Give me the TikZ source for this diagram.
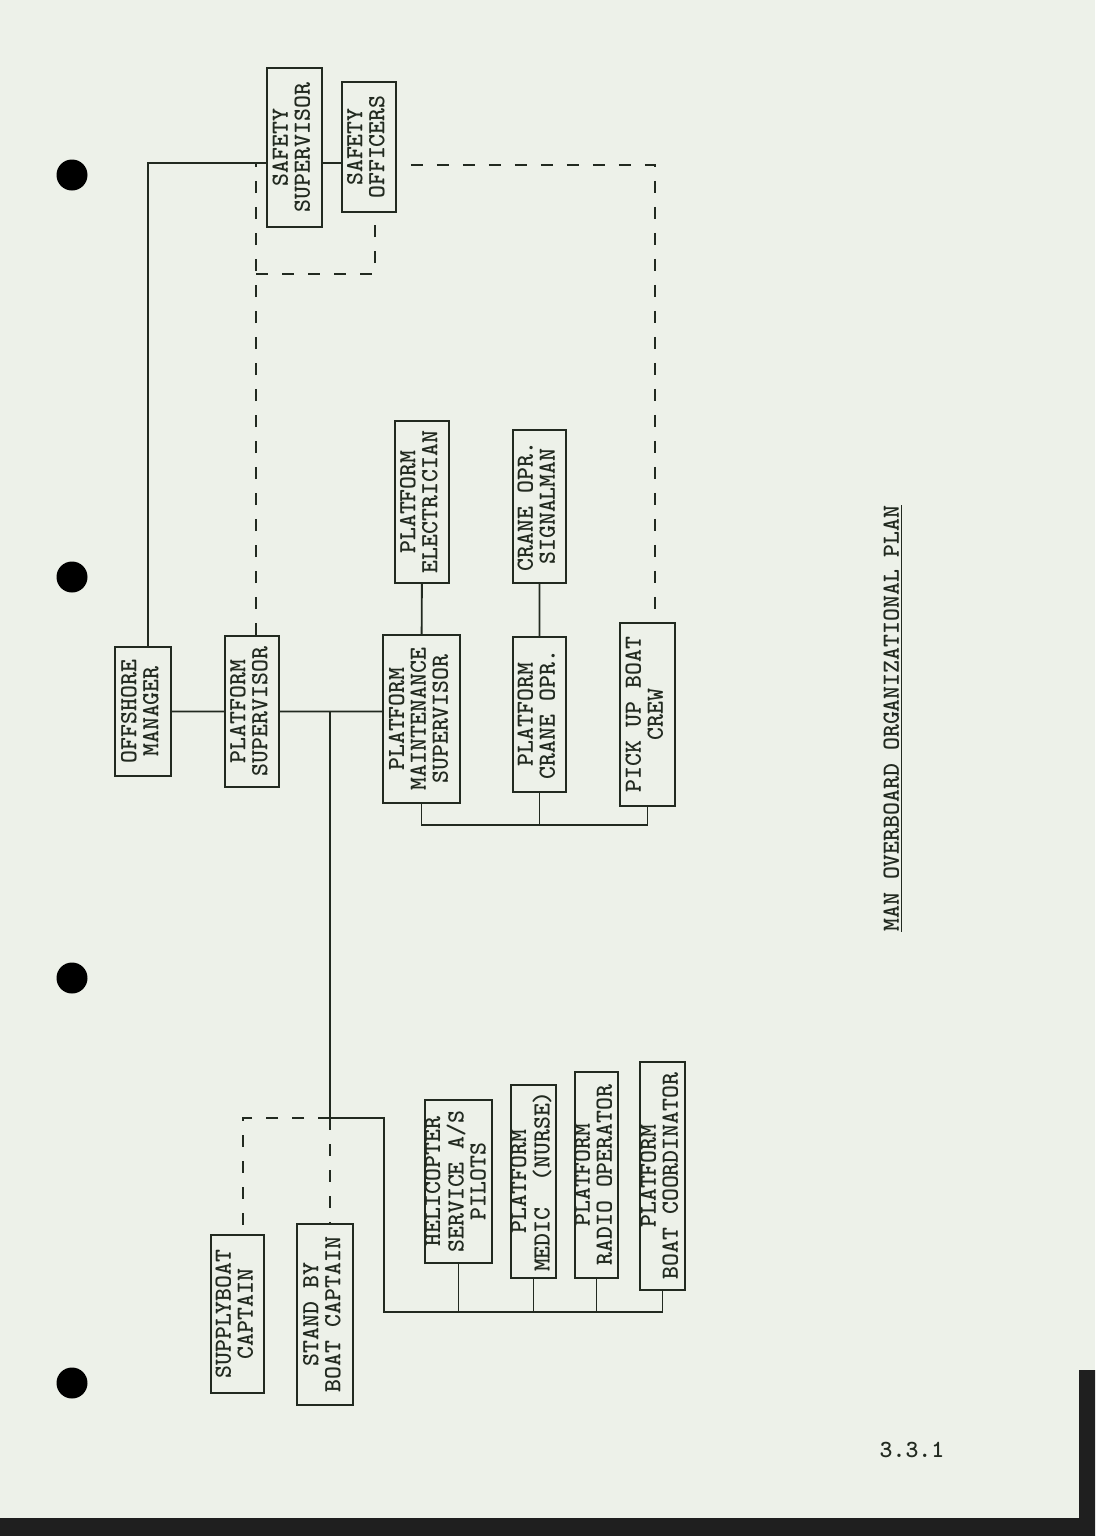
\documentclass[tikz,border=0pt]{standalone}
\usetikzlibrary{positioning}
\definecolor{paper}{HTML}{EDF1E9}
\definecolor{ink}{HTML}{222A20}
\newcommand\vtext[1]{\rotatebox{90}{\begin{tabular}{@{}c@{}}#1\end{tabular}}}
\begin{document}
\begin{tikzpicture}[x=0.2mm,y=-0.2mm,
	tt/.style={font=\ttfamily\bfseries\fontsize{14}{12.4}\selectfont,text=ink},
	box/.style={tt,draw=ink,line width=1.1pt,inner sep=0pt},
	wh/.style 2 args={minimum width=#1*0.2mm,minimum height=#2*0.2mm},
	sol/.style={draw=ink,line width=1.1pt},
	dsh/.style={draw=ink,line width=1.1pt,dash pattern=on 2.4mm off 2.8mm}]
				\fill[paper] (0,0) rectangle (1095,1536)
				;
				\useasboundingbox (0,0) rectangle (1095,1536)
				;
				\fill[black!88] (0,1518) rectangle (1095,1536) (1079,1370) rectangle (1095,1536)
				;
				\foreach \y in {175,577,978,1383} \fill[black] (72,\y) circle (3.1mm)
				;
				\node[box,wh={55}{159}] (ss) at (294.5,147.5) {\vtext{SAFETY\\SUPERVISOR}};
				\node[box,wh={54}{130}] (so) at (369,147) {\vtext{SAFETY\\OFFICERS}};
				\node[box,wh={56}{129}] (om) at (143,711.5) {\vtext{OFFSHORE\\MANAGER}};
				\node[box,wh={54}{151}] (ps) at (252,711.5) {\vtext{PLATFORM\\SUPERVISOR}};
				\node[box,wh={77}{168}] (pms) at (421.5,719) {\vtext{PLATFORM\\MAINTENANCE\\SUPERVISOR}};
				\node[box,wh={54}{162}] (pe) at (422,502) {\vtext{PLATFORM\\ELECTRICIAN}};
				\node[box,wh={53}{153}] (cs) at (539.5,506.5) {\vtext{CRANE OPR.\\SIGNALMAN}};
				\node[box,wh={53}{155}] (pco) at (539.5,714.5) {\vtext{PLATFORM\\CRANE OPR.}};
				\node[box,wh={55}{183}] (pub) at (647.5,714.5) {\vtext{PICK UP BOAT\\CREW}};
				\node[box,wh={67}{163}] (heli) at (458.5,1181.5) {\vtext{HELICOPTER\\SERVICE A/S\\PILOTS}};
				\node[box,wh={43}{193}] (medic) at (533.5,1181.5) {\vtext{PLATFORM\\MEDIC~~(NURSE)}};
				\node[box,wh={43}{206}] (radio) at (596.5,1175) {\vtext{PLATFORM\\RADIO OPERATOR}};
				\node[box,wh={45}{228}] (coord) at (662.5,1176) {\vtext{PLATFORM\\BOAT COORDINATOR}};
				\node[box,wh={53}{158}] (sb) at (237.5,1314) {\vtext{SUPPLYBOAT\\CAPTAIN}};
				\node[box,wh={56}{181}] (stb) at (325,1314.5) {\vtext{STAND BY\\BOAT CAPTAIN}};
				\path
				(148,163) coordinate (j1)
				(330,711.5) coordinate (j2)
				(330,1118) coordinate (j3)
				(384,1118) coordinate (j4)
				(384,1312) coordinate (b2)
				(427,825) coordinate (b1)
				(655,165) coordinate (d1)
				(256,274) coordinate (d2)
				(375,274) coordinate (d3)
				(243,1118) coordinate (d4)
				;
				\draw[sol] (om.north -| j1) -- (j1) -- (j1 -| ss.west) (ss.east |- j1) -- (so.west |- j1)
				;
				\draw[sol] (om) -- (ps) (ps.east) -- (ps.east -| pms.west) (pe) -- (pms) (cs) -- (pco)
				;
				\draw[sol] (pms.south) -- (pms.south |- b1) -| (pub.south) (pco.south) -- (pco.south |- b1)
				;
				\draw[sol] (j2) -- (j3) -- (j4) -- (b2) -| (coord.south)
				;
				\foreach \n in {heli,medic,radio} \draw[sol] (\n.south) -- (\n.south |- b2)
				;
				\draw[dsh,dash phase=2.4mm] (so.east |- d1) -- (d1) -- (d1 |- pub.north)
				;
				\draw[dsh] (d2 |- ps.north) -- (d2 |- j1) (d2) -- (d3) -- (d3 |- so.south)
				;
				\draw[dsh] (j3) -- (d4) -- (d4 |- sb.north) (j3) -- (j3 |- stb.north)
				;
				\node[tt] (title) at (893,718.5) {\rotatebox{90}{\underline{MAN OVERBOARD ORGANIZATIONAL PLAN}}};
				\node[tt] (pgno) at (912,1450) {3.3.1};
\end{tikzpicture}
\end{document}
